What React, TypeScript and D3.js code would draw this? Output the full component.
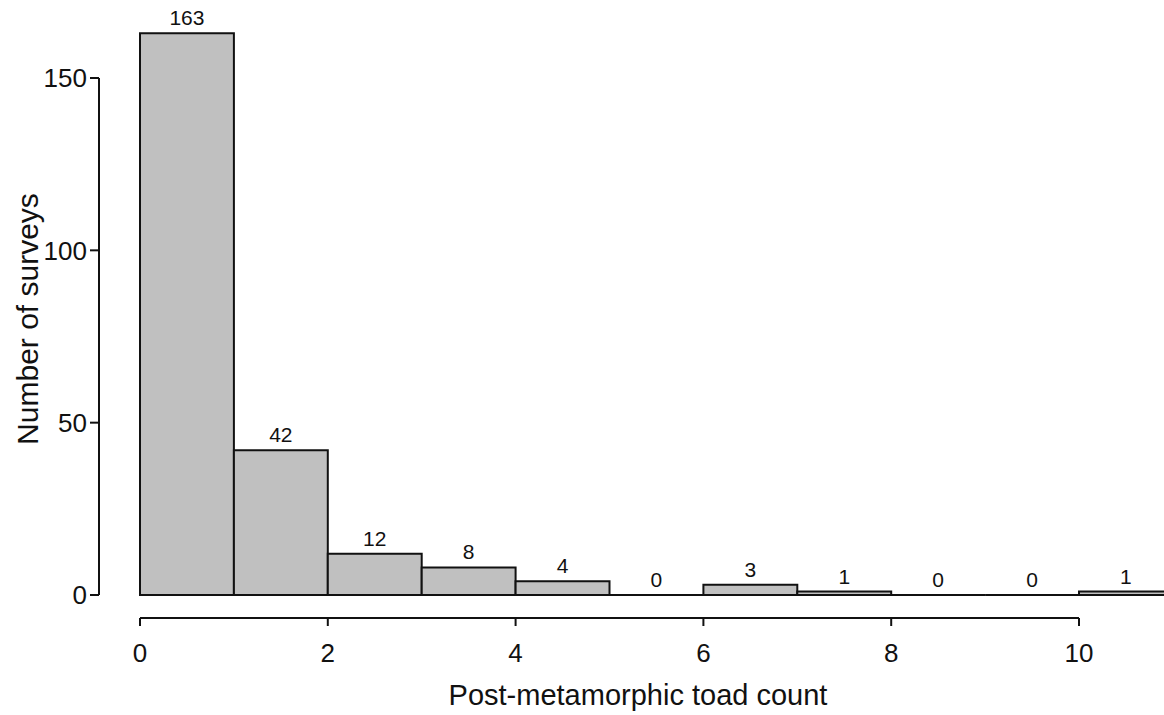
import React from "react";
import * as d3 from "d3";

// histogram bins: [binStart, binStart + 1)
const binStarts = [0, 1, 2, 3, 4, 5, 6, 7, 8, 9, 10];
const counts = [163, 42, 12, 8, 4, 0, 3, 1, 0, 0, 1];
const xTicks = [0, 2, 4, 6, 8, 10];
const yTicks = [0, 50, 100, 150];

const W = 1164;
const H = 715;
const font = "'Liberation Sans', Arial, Helvetica, sans-serif";

export default function App() {
  const x = d3.scaleLinear().domain([0, 10]).range([140, 1079]);
  const y = d3.scaleLinear().domain([0, 150]).range([595, 78]);
  const axisX = 99;
  const axisY = 618;

  // bars as closed paths so that empty bins still draw a flat line
  const barPath = (b: number, c: number) => {
    const p = d3.path();
    p.moveTo(x(b), y(0));
    p.lineTo(x(b), y(c));
    p.lineTo(x(b + 1), y(c));
    p.lineTo(x(b + 1), y(0));
    p.closePath();
    return p.toString();
  };

  return (
    <svg
      width={W}
      height={H}
      style={{ position: "absolute", left: 0, top: 0, background: "#fff" }}
      fontFamily={font}
    >
      {binStarts.map((b, i) => (
        <g key={b}>
          <path d={barPath(b, counts[i])} fill="#c0c0c0" stroke="#111" strokeWidth={2} />
          <text
            x={(x(b) + x(b + 1)) / 2}
            y={y(counts[i]) - 8}
            textAnchor="middle"
            fontSize={21}
            fill="#111"
          >
            {counts[i]}
          </text>
        </g>
      ))}

      {/* y axis */}
      <line x1={axisX} x2={axisX} y1={y(0)} y2={y(150)} stroke="#111" strokeWidth={2} />
      {yTicks.map((t) => (
        <g key={t}>
          <line x1={axisX - 9} x2={axisX} y1={y(t)} y2={y(t)} stroke="#111" strokeWidth={2} />
          <text x={axisX - 12} y={y(t)} dy="0.36em" textAnchor="end" fontSize={26} fill="#111">
            {t}
          </text>
        </g>
      ))}

      {/* x axis */}
      <line x1={x(0)} x2={x(10)} y1={axisY} y2={axisY} stroke="#111" strokeWidth={2} />
      {xTicks.map((t) => (
        <g key={t}>
          <line x1={x(t)} x2={x(t)} y1={axisY} y2={axisY + 8} stroke="#111" strokeWidth={2} />
          <text x={x(t)} y={662} textAnchor="middle" fontSize={26} fill="#111">
            {t}
          </text>
        </g>
      ))}

      <text x={638} y={705} textAnchor="middle" fontSize={29} fill="#111">
        Post-metamorphic toad count
      </text>
      <text
        transform="translate(38,319) rotate(-90)"
        textAnchor="middle"
        fontSize={30}
        fill="#111"
      >
        Number of surveys
      </text>
    </svg>
  );
}
